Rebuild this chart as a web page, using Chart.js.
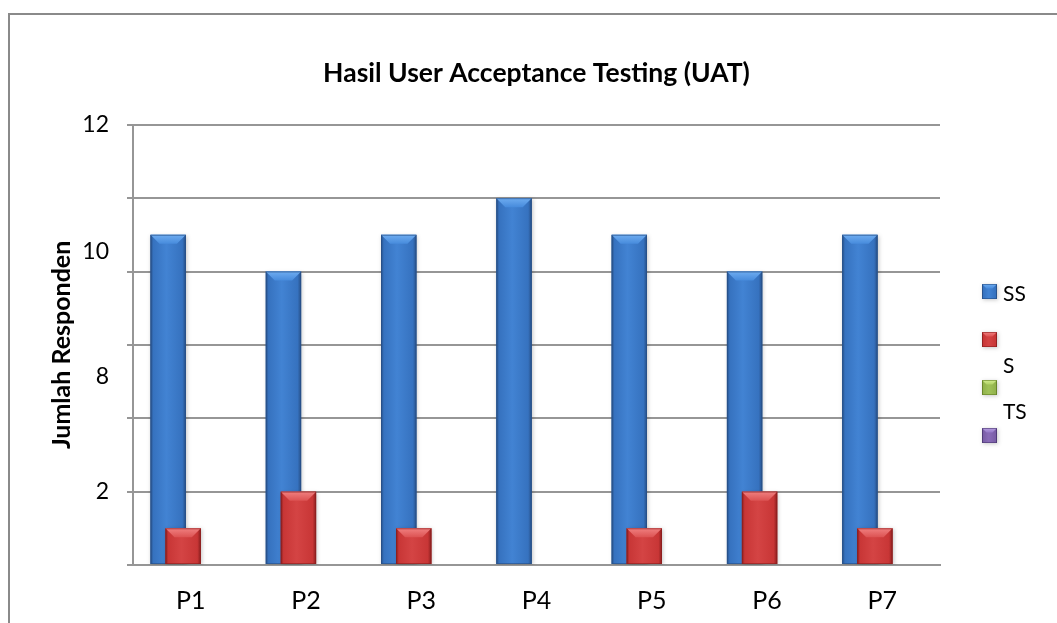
<!DOCTYPE html>
<html>
<head>
<meta charset="utf-8">
<script src="https://cdn.jsdelivr.net/npm/chart.js@4.4.1/dist/chart.umd.min.js"></script>
<style>
  html, body { margin: 0; padding: 0; background: #ffffff; }
  #wrap { position: relative; width: 1057px; height: 623px; }
</style>
</head>
<body>
<div id="wrap"><canvas id="c" width="1057" height="623"></canvas></div>
<script>
// ---- data ----
const categories = ['P1', 'P2', 'P3', 'P4', 'P5', 'P6', 'P7'];
const seriesNames = ['SS', 'S', 'TS', 'STS'];
const legendLabels = ['SS', 'S', 'TS', ''];
const valuesSS  = [9, 8, 9, 10, 9, 8, 9];
const valuesS   = [1, 2, 1, 0, 1, 2, 1];
const valuesTS  = [0, 0, 0, 0, 0, 0, 0];
const valuesSTS = [0, 0, 0, 0, 0, 0, 0];
const yTickLabels = ['12', '10', '8', '2'];
const yTickLabelValues = [12, 8.55, 5.15, 2];
const chartTitle = 'Hasil User Acceptance Testing (UAT)';
const yAxisTitle = 'Jumlah Responden';

// ---- styles ----
const palettes = [
  { edge: '#274f86', body: '#3672bf', light: '#4283d3', bevTop: '#6eacf0', bevBot: '#478bdc' },
  { edge: '#8a1e1e', body: '#c83636', light: '#d44444', bevTop: '#f08080', bevBot: '#dc5252' },
  { edge: '#627f25', body: '#92b34c', light: '#a0c258', bevTop: '#d4ee90', bevBot: '#b0d066' },
  { edge: '#4a3570', body: '#7a5ea6', light: '#8a6cb8', bevTop: '#b8a0e0', bevBot: '#9478c8' }
];
const FONT = 'Lato, "Open Sans", sans-serif';
const GRID = '#969696';

function bevelBox(ctx, x0, top, w, h, pal, b) {
  ctx.save();
  ctx.shadowColor = 'rgba(0,0,0,0.22)';
  ctx.shadowBlur = 4;
  ctx.shadowOffsetX = 1;
  ctx.shadowOffsetY = 1;
  const g = ctx.createLinearGradient(x0, 0, x0 + w, 0);
  g.addColorStop(0, pal.edge);
  g.addColorStop(0.08, pal.body);
  g.addColorStop(0.45, pal.light);
  g.addColorStop(0.9, pal.body);
  g.addColorStop(1, pal.edge);
  ctx.fillStyle = g;
  ctx.fillRect(x0, top, w, h);
  ctx.restore();
  const bb = Math.min(b, w * 0.3, h / 2);
  const vg = ctx.createLinearGradient(0, top, 0, top + bb);
  vg.addColorStop(0, pal.bevTop);
  vg.addColorStop(1, pal.bevBot);
  ctx.fillStyle = vg;
  ctx.beginPath();
  ctx.moveTo(x0, top);
  ctx.lineTo(x0 + w, top);
  ctx.lineTo(x0 + w - bb, top + bb);
  ctx.lineTo(x0 + bb, top + bb);
  ctx.closePath();
  ctx.fill();
  ctx.strokeStyle = pal.edge;
  ctx.globalAlpha = 0.6;
  ctx.lineWidth = 1;
  ctx.strokeRect(x0 + 0.5, top + 0.5, w - 1, h - 1);
  ctx.globalAlpha = 1;
}

const framePlugin = {
  id: 'frame',
  beforeDraw(chart) {
    const ctx = chart.ctx;
    ctx.save();
    ctx.strokeStyle = '#8a8a8a';
    ctx.lineWidth = 2;
    ctx.beginPath();
    ctx.moveTo(9, 623);
    ctx.lineTo(9, 14);
    ctx.lineTo(1057, 14);
    ctx.stroke();
    ctx.restore();
  }
};

const barsPlugin = {
  id: 'bevelBars',
  beforeDatasetsDraw(chart) {
    const ctx = chart.ctx;
    const area = chart.chartArea;
    const metas = chart.getSortedVisibleDatasetMetas();
    ctx.save();
    ctx.beginPath();
    ctx.rect(area.left, area.top - 4, area.right - area.left, area.bottom - area.top + 4);
    ctx.clip();
    metas.forEach(meta => {
      meta.controller.draw();
      const pal = palettes[meta.index];
      meta.data.forEach(el => {
        const p = el.getProps(['x', 'y', 'base', 'width'], true);
        const h = p.base - p.y;
        if (h < 0.5) return;
        bevelBox(ctx, p.x - p.width / 2, p.y, p.width, h, pal, 9);
      });
    });
    ctx.restore();
    return false;
  },
};

const legendPlugin = {
  id: 'excelLegend',
  afterDraw(chart) {
    const ctx = chart.ctx;
    const markerY = [284, 332, 380, 428];
    const textY = [294, 366, 412, null];
    ctx.save();
    for (let i = 0; i < seriesNames.length; i++) {
      bevelBox(ctx, 982, markerY[i], 15, 15, palettes[i], 5);
      if (legendLabels[i] && textY[i] !== null) {
        ctx.fillStyle = '#000';
        ctx.font = '21px ' + FONT;
        ctx.textAlign = 'left';
        ctx.textBaseline = 'middle';
        ctx.fillText(legendLabels[i], 1003, textY[i]);
      }
    }
    ctx.restore();
  }
};

const datasetValues = [valuesSS, valuesS, valuesTS, valuesSTS];

new Chart(document.getElementById('c'), {
  type: 'bar',
  data: {
    labels: categories,
    datasets: seriesNames.map((name, i) => ({
      label: name,
      data: datasetValues[i],
      backgroundColor: palettes[i].body,
      borderWidth: 0,
      categoryPercentage: 0.52,
      barPercentage: 2.36
    }))
  },
  plugins: [framePlugin, barsPlugin, legendPlugin],
  options: {
    responsive: false,
    animation: false,
    events: [],
    layout: { padding: { left: 47, right: 117, top: 0, bottom: 0 } },
    plugins: {
      legend: { display: false },
      tooltip: { enabled: false },
      title: {
        display: true,
        text: chartTitle,
        fullSize: false,
        color: '#000',
        font: { family: FONT, size: 26.5, weight: 'bold', lineHeight: 1.2 },
        padding: { top: 58, bottom: 35 }
      }
    },
    scales: {
      x: {
        type: 'category',
        grid: { display: false, drawTicks: false },
        border: { display: true, color: GRID, width: 2 },
        ticks: { color: '#000', font: { family: FONT, size: 25 }, padding: 21 },
        afterFit(s) { s.height = 58; }
      },
      y: {
        type: 'linear',
        position: 'left',
        weight: 0,
        min: 0,
        max: 12,
        afterBuildTicks(s) {
          const t = [];
          for (let v = 0; v <= 12; v += 2) t.push({ value: v });
          s.ticks = t;
        },
        grid: { color: GRID, lineWidth: 2, drawTicks: true, tickLength: 6, tickColor: GRID },
        border: { display: true, color: GRID, width: 2 },
        ticks: { display: false },
        afterFit(s) { s.width = 24; }
      },
      yLab: {
        type: 'linear',
        position: 'left',
        weight: 1,
        min: 0,
        max: 12,
        afterBuildTicks(s) {
          s.ticks = yTickLabelValues.map(v => ({ value: v }));
        },
        grid: { display: false, drawTicks: false },
        border: { display: false },
        ticks: {
          color: '#000',
          padding: 0,
          font: { family: FONT, size: 23 },
          callback: (v, i) => yTickLabels[i]
        },
        title: {
          display: true,
          text: yAxisTitle,
          color: '#000',
          padding: 0,
          font: { family: FONT, size: 25, weight: 'bold', lineHeight: 1.2 }
        },
        afterFit(s) { s.width = 62; }
      }
    }
  }
});
</script>
</body>
</html>
